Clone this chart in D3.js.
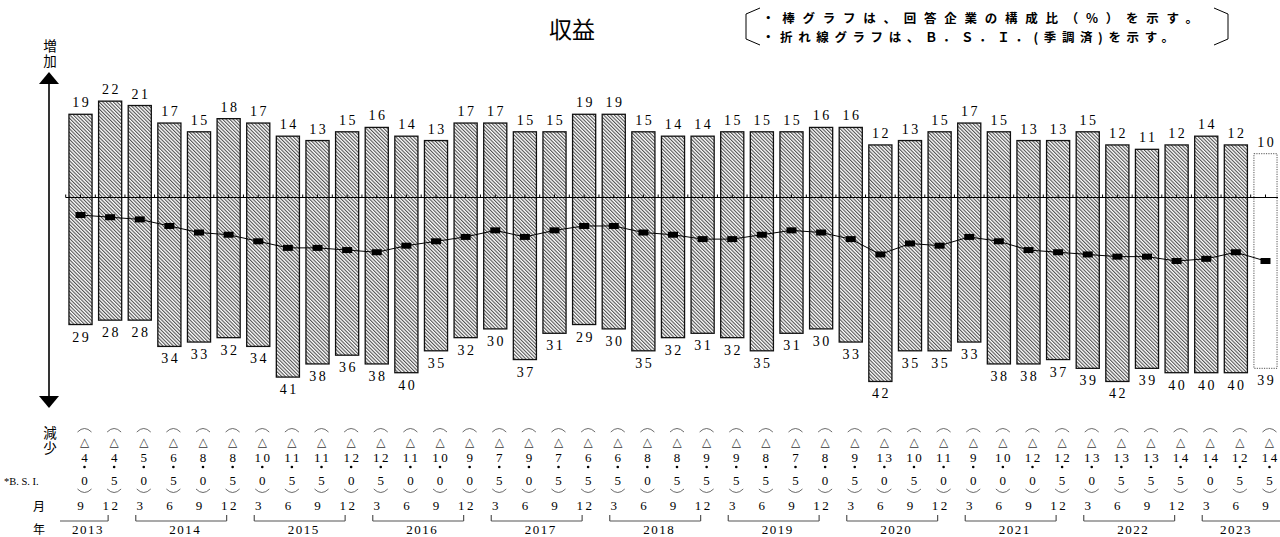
<!DOCTYPE html>
<html>
<head>
<meta charset="utf-8">
<script src="https://d3js.org/d3.v7.min.js"></script>
<style>body{margin:0;background:#fff}</style>
</head>
<body>
<script>
// periods: quarter-end months per year
const years = [2013, 2014, 2015, 2016, 2017, 2018, 2019, 2020, 2021, 2022, 2023];
const monthsByYear = [[9, 12], [3, 6, 9, 12], [3, 6, 9, 12], [3, 6, 9, 12], [3, 6, 9, 12],
                      [3, 6, 9, 12], [3, 6, 9, 12], [3, 6, 9, 12], [3, 6, 9, 12], [3, 6, 9, 12], [3, 6, 9]];
// share of firms answering "increase" / "decrease" (%)
const upShare = [19, 22, 21, 17, 15, 18, 17, 14, 13, 15, 16, 14, 13, 17, 17, 15, 15, 19, 19, 15, 14,
                 14, 15, 15, 15, 16, 16, 12, 13, 15, 17, 15, 13, 13, 15, 12, 11, 12, 14, 12, 10];
const downShare = [29, 28, 28, 34, 33, 32, 34, 41, 38, 36, 38, 40, 35, 32, 30, 37, 31, 29, 30, 35, 32,
                   31, 32, 35, 31, 30, 33, 42, 35, 35, 33, 38, 38, 37, 39, 42, 39, 40, 40, 40, 39];
// B.S.I. (seasonally adjusted)
const bsi = [-4.0, -4.5,
             -5.0, -6.5, -8.0, -8.5,
             -10.0, -11.5, -11.5, -12.0,
             -12.5, -11.0, -10.0, -9.0,
             -7.5, -9.0, -7.5, -6.5,
             -6.5, -8.0, -8.5, -9.5,
             -9.5, -8.5, -7.5, -8.0,
             -9.5, -13.0, -10.5, -11.0,
             -9.0, -10.0, -12.0, -12.5,
             -13.0, -13.5, -13.5, -14.5,
             -14.0, -12.5, -14.5];
const forecastIndex = 40;
const noteLines = ["・棒グラフは、回答企業の構成比（%）を示す。", "・折れ線グラフは、Ｂ．Ｓ．Ｉ．(季調済)を示す。"];
</script>
<script>
let periods = [];
years.forEach((yr, i) => monthsByYear[i].forEach(m => periods.push({year: yr, month: m})));
let n = periods.length;

let width = 1280, height = 537;
let serif = "'Liberation Serif', serif";
let jp = "'Noto Sans CJK JP', sans-serif";
let svg = d3.select("body").append("svg")
  .attr("width", width).attr("height", height)
  .style("font-family", serif);

let x = d3.scaleBand().domain(d3.range(n))
  .range([65.7, 1280.3]).paddingInner(0.22).paddingOuter(0.11);
let cx = i => x(i) + x.bandwidth() / 2;
let y = d3.scaleLinear().domain([-45, 25]).range([197.5 + 45 * 4.38, 197.5 - 25 * 4.38]);

// wide, spaced digits like the original print
function num(sel, size) {
  return sel.attr("font-size", size).attr("letter-spacing", 2.5).attr("dx", 1.25)
    .attr("text-anchor", "middle");
}

// hatch pattern
let defs = svg.append("defs");
let pat = defs.append("pattern").attr("id", "hatch")
  .attr("patternUnits", "userSpaceOnUse")
  .attr("width", 2.5).attr("height", 2.5)
  .attr("patternTransform", "rotate(-45)");
pat.append("rect").attr("width", 2.5).attr("height", 2.5).attr("fill", "#fff");
pat.append("line").attr("x1", 0.6).attr("y1", -1).attr("x2", 0.6).attr("y2", 4)
  .attr("stroke", "#2a2a2a").attr("stroke-width", 0.9);

// bars
svg.selectAll("rect.bar").data(periods).enter().append("rect")
  .attr("class", "bar")
  .attr("x", (d, i) => x(i))
  .attr("width", x.bandwidth())
  .attr("y", (d, i) => y(upShare[i]))
  .attr("height", (d, i) => y(-downShare[i]) - y(upShare[i]))
  .attr("fill", (d, i) => i >= forecastIndex ? "#fff" : "url(#hatch)")
  .attr("stroke", (d, i) => i >= forecastIndex ? "#555" : "#111")
  .attr("stroke-width", (d, i) => i >= forecastIndex ? 1 : 1.3)
  .attr("stroke-dasharray", (d, i) => i >= forecastIndex ? "1.2,1.2" : null);

// zero line with small ticks
svg.append("line")
  .attr("x1", x.range()[0]).attr("x2", 1278)
  .attr("y1", y(0)).attr("y2", y(0))
  .attr("stroke", "#000").attr("stroke-width", 1.2);
let halfTicks = d3.range(0, 2 * n + 1).map(k => x.range()[0] + k * x.step() / 2).filter(v => v < 1279);
svg.selectAll("line.tk").data(halfTicks).enter().append("line")
  .attr("x1", d => d).attr("x2", d => d)
  .attr("y1", y(0) - 3).attr("y2", y(0))
  .attr("stroke", "#000").attr("stroke-width", 1);

// vertical arrow axis
svg.append("line").attr("x1", 49).attr("x2", 49).attr("y1", 80).attr("y2", 400)
  .attr("stroke", "#000").attr("stroke-width", 1.6);
svg.append("path").attr("d", "M49,72 L39,84 L59,84 Z").attr("fill", "#000");
svg.append("path").attr("d", "M49,408 L39,396 L59,396 Z").attr("fill", "#000");

// BSI line
let line = d3.line().x((d, i) => cx(i)).y(d => y(d));
svg.append("path").datum(bsi).attr("d", line)
  .attr("fill", "none").attr("stroke", "#000").attr("stroke-width", 1);
svg.selectAll("rect.mk").data(bsi).enter().append("rect")
  .attr("x", (d, i) => cx(i) - 5).attr("y", d => y(d) - 3)
  .attr("width", 10).attr("height", 6).attr("fill", "#000");

// bar value labels
num(svg.selectAll("text.up").data(upShare).enter().append("text")
  .attr("x", (d, i) => cx(i)).attr("y", d => y(d) - 7), 14).text(d => d);
num(svg.selectAll("text.dn").data(downShare).enter().append("text")
  .attr("x", (d, i) => cx(i)).attr("y", d => y(-d) + 17), 14).text(d => d);

// axis words, set vertically
[["増加", 39], ["減少", 426]].forEach(([t, yy]) =>
  svg.append("text").attr("x", 50).attr("y", yy)
    .style("writing-mode", "vertical-rl").style("text-orientation", "upright")
    .attr("letter-spacing", 2)
    .attr("font-family", jp).attr("font-size", 13.5).text(t));
svg.append("text").attr("x", 4).attr("y", 485).attr("font-size", 10.5).text("*B. S. I.");
svg.append("text").attr("x", 39).attr("y", 511).attr("text-anchor", "middle")
  .attr("font-family", jp).attr("font-size", 12).text("月");
svg.append("text").attr("x", 39).attr("y", 534).attr("text-anchor", "middle")
  .attr("font-family", jp).attr("font-size", 12).text("年");

// BSI value table (vertical)
let bx = i => cx(i) + 4;
let cols = svg.selectAll("g.col").data(bsi).enter().append("g").attr("class", "col");
cols.append("path")
  .attr("d", (d, i) => `M${bx(i) - 7},432 Q${bx(i)},425 ${bx(i) + 7},432`)
  .attr("fill", "none").attr("stroke", "#444").attr("stroke-width", 0.8);
cols.append("text").attr("x", (d, i) => bx(i)).attr("y", 446)
  .attr("text-anchor", "middle").attr("font-size", 12).attr("fill", "#333")
  .attr("font-family", "'DejaVu Sans', sans-serif").text(d => d < 0 ? "△" : "");
num(cols.append("text").attr("x", (d, i) => bx(i)).attr("y", 462), 13)
  .text(d => Math.floor(Math.abs(d)));
cols.append("circle").attr("cx", (d, i) => bx(i)).attr("cy", 467).attr("r", 1.3).attr("fill", "#000");
num(cols.append("text").attr("x", (d, i) => bx(i)).attr("y", 485), 13)
  .text(d => Math.round((Math.abs(d) % 1) * 10));
cols.append("path")
  .attr("d", (d, i) => `M${bx(i) - 7},489 Q${bx(i)},496 ${bx(i) + 7},489`)
  .attr("fill", "none").attr("stroke", "#444").attr("stroke-width", 0.8);

// months
num(svg.selectAll("text.mo").data(periods).enter().append("text")
  .attr("x", (d, i) => cx(i)).attr("y", 510), 13).text(d => d.month);

// year brackets
let idx = 0;
years.forEach((yr, k) => {
  let first = idx, last = idx + monthsByYear[k].length - 1;
  idx = last + 1;
  let left = k === 0 ? 60 : cx(first) - 4;
  let right = k === years.length - 1 ? 1280 : cx(last) - 2;
  let by = 521;
  let p = `M${left},${by} L${right},${by}`;
  if (k !== 0) p += ` M${left},${by - 6} L${left},${by}`;
  if (k !== years.length - 1) p += ` M${right},${by - 6} L${right},${by}`;
  svg.append("path").attr("d", p).attr("fill", "none").attr("stroke", "#555").attr("stroke-width", 1.2);
  let mid = k === years.length - 1 ? (left + 1270) / 2 : (left + right) / 2 + 4;
  svg.append("text").attr("x", mid).attr("y", 534).attr("text-anchor", "middle")
    .attr("font-size", 13).attr("letter-spacing", 1.5).text(yr);
});

// title
svg.append("text").attr("x", 572).attr("y", 38).attr("text-anchor", "middle")
  .attr("font-family", jp).attr("font-size", 23).text("収益");

// note with brackets
svg.append("path").attr("d", "M760,8 L746,14 L746,39 L760,45")
  .attr("fill", "none").attr("stroke", "#000").attr("stroke-width", 1);
svg.append("path").attr("d", "M1214,8 L1228,14 L1228,39 L1214,45")
  .attr("fill", "none").attr("stroke", "#000").attr("stroke-width", 1);
svg.append("text").attr("x", 762).attr("y", 23).attr("font-family", jp)
  .attr("font-size", 12.5).attr("font-weight", "bold")
  .attr("textLength", 436).attr("lengthAdjust", "spacing").text(noteLines[0]);
svg.append("text").attr("x", 762).attr("y", 42).attr("font-family", jp)
  .attr("font-size", 12.5).attr("font-weight", "bold")
  .attr("textLength", 412).attr("lengthAdjust", "spacing").text(noteLines[1]);
</script>
</body>
</html>
